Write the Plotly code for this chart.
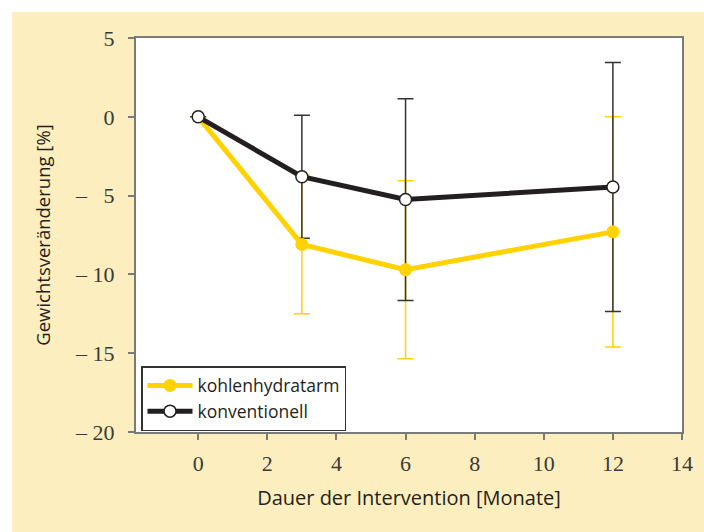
import plotly.graph_objects as go

# ---- data ----
months = [0, 3, 6, 12]
low_carb = [0, -8.1, -9.7, -7.3]
low_carb_err = [0, 4.4, 5.65, 7.3]
conventional = [0, -3.8, -5.25, -4.45]
conventional_err = [0, 3.9, 6.4, 7.9]

series_names = ["kohlenhydratarm", "konventionell"]
x_ticks = [0, 2, 4, 6, 8, 10, 12, 14]
y_ticks = [-20, -15, -10, -5, 0, 5]
y_ticktext = ["– 20", "– 15", "– 10", "– \u20075", "0", "5"]
x_title = "Dauer der Intervention [Monate]"
y_title = "Gewichtsveränderung [%]"

# ---- style ----
YELLOW = "#FFD200"
BLACK = "#231F20"
CREAM = "#FCEEBE"
AXIS = "#7A7A7A"
W, H = 704, 532
ML, MR, MT, MB = 136, 22, 38, 100
PW, PH = W - ML - MR, H - MT - MB
STRIP = 12

fig = go.Figure()

# error bars (drawn underneath)
fig.add_trace(go.Scatter(
    x=months, y=low_carb, mode="markers",
    marker=dict(size=1, color="rgba(0,0,0,0)"),
    error_y=dict(type="data", array=low_carb_err, color=YELLOW, thickness=1.5, width=8),
    showlegend=False, hoverinfo="skip"))
fig.add_trace(go.Scatter(
    x=months, y=conventional, mode="markers",
    marker=dict(size=1, color="rgba(0,0,0,0)"),
    error_y=dict(type="data", array=conventional_err, color="#333333", thickness=1.5, width=8),
    showlegend=False, hoverinfo="skip"))

# lines
fig.add_trace(go.Scatter(
    x=months, y=low_carb, mode="lines+markers", name=series_names[0],
    line=dict(color=YELLOW, width=5),
    marker=dict(size=13, color=YELLOW)))
fig.add_trace(go.Scatter(
    x=months, y=conventional, mode="lines+markers", name=series_names[1],
    line=dict(color=BLACK, width=5),
    marker=dict(size=12, color="white", line=dict(color=BLACK, width=1.5))))

axis_common = dict(
    showline=True, linecolor=AXIS, linewidth=2, mirror=True,
    ticks="outside", ticklen=6, tickwidth=2, tickcolor=AXIS,
    showgrid=False, zeroline=False,
    tickfont=dict(family="Liberation Serif", size=22, color="#3a3a3a"),
)

fig.update_xaxes(range=[-1.8, 14], tickvals=x_ticks, title_text=x_title,
                 title_font=dict(family="Open Sans", size=20, color=BLACK),
                 ticklabelstandoff=5, title_standoff=16, **axis_common)
fig.update_yaxes(range=[-20, 5], tickvals=y_ticks, ticktext=y_ticktext,
                 title_font=dict(family="Open Sans", size=18.5, color=BLACK),
                 title_text=y_title, ticklabelstandoff=9, title_standoff=20, **axis_common)

# white strips at top and left edge; cream paper elsewhere
fig.add_shape(type="rect", xref="paper", yref="paper", layer="above",
              x0=-ML / PW, x1=1 + MR / PW, y0=1 + (MT - STRIP) / PH, y1=1 + MT / PH,
              fillcolor="white", line_width=0)
fig.add_shape(type="rect", xref="paper", yref="paper", layer="above",
              x0=-ML / PW, x1=-(ML - STRIP) / PW, y0=-MB / PH, y1=1 + MT / PH,
              fillcolor="white", line_width=0)

fig.update_layout(
    width=W, height=H,
    margin=dict(l=ML, r=MR, t=MT, b=MB),
    paper_bgcolor=CREAM, plot_bgcolor="white",
    legend=dict(x=(141 - ML) / PW, y=(H - MB - 366) / PH, xanchor="left", yanchor="top",
                bgcolor="white", bordercolor="#333333", borderwidth=1.5,
                font=dict(family="Open Sans", size=17.5, color=BLACK),
                tracegroupgap=0, itemwidth=45),
)

fig.write_html(
    "out.html",
    config={"displayModeBar": False},
    post_script="document.body.style.margin='0';document.body.style.overflow='hidden';",
)
